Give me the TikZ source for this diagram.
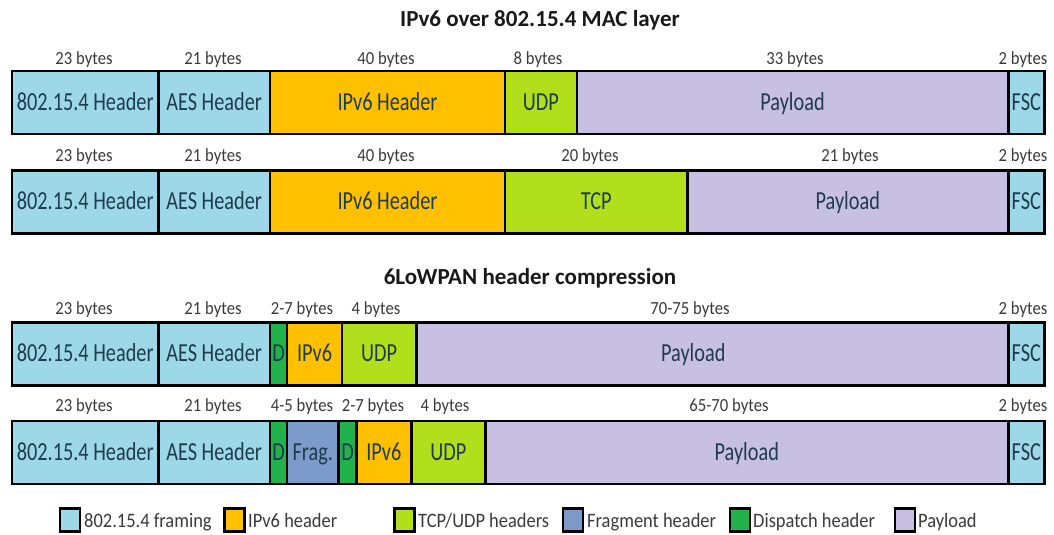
\documentclass[tikz,border=0pt]{standalone}
\usepackage{fontspec}
\setmainfont{Carlito}
\newfontfamily\segfont[FakeStretch=0.78]{Carlito}
\newfontfamily\lblfont[FakeStretch=0.9]{Carlito}
\definecolor{blueC}{HTML}{9DD8E8}
\definecolor{orangeC}{HTML}{FFC000}
\definecolor{limeC}{HTML}{B2DF1C}
\definecolor{purpleC}{HTML}{C8C0E2}
\definecolor{dgreenC}{HTML}{22B24C}
\definecolor{fragC}{HTML}{7C9BCB}
\definecolor{segtext}{HTML}{1F3B4D}
\definecolor{lbltext}{HTML}{3A3A3A}
\newcommand\seg[6]{\node[segbox, fill=#2, minimum width={(#4-#3)*1pt}] (#1) at (#3,#5) {#6};}
\begin{document}
\begin{tikzpicture}[x=1pt,y=-1pt,
  segbox/.style={draw=black, line width=2.6pt, inner sep=0pt, anchor=west,
    text=segtext, font=\segfont\fontsize{26}{26}\selectfont,
    minimum height=63pt, text height=15pt, text depth=0pt},
  lbl/.style={font=\lblfont\fontsize{18.5}{18.5}\selectfont, text=lbltext, inner sep=0pt, anchor=base},
  ttl/.style={font=\bfseries\fontsize{23}{23}\selectfont, text=black!90, inner sep=0pt, anchor=base},
  legbox/.style={draw=black, line width=2.4pt, minimum width=20pt, minimum height=23pt, inner sep=0pt},
  legtxt/.style={font=\lblfont\fontsize{20.5}{20.5}\selectfont, text=lbltext, inner sep=0pt, anchor=base west}]
\useasboundingbox (0,0) rectangle (1054,535);

% titles
\node[ttl] (t1) at (540,26.5) {IPv6 over 802.15.4 MAC layer};
\node[ttl] (t2) at (530,284) {6LoWPAN header compression};

% row 1
\seg{r1a}{blueC}{10.8}{157}{102.5}{802.15.4 Header}
\seg{r1b}{blueC}{157}{268.8}{102.5}{AES Header}
\seg{r1c}{orangeC}{268.8}{503.7}{102.5}{IPv6 Header}
\seg{r1d}{limeC}{503.7}{575.5}{102.5}{UDP}
\seg{r1e}{purpleC}{575.5}{1007}{102.5}{Payload}
\seg{r1f}{blueC}{1007}{1043}{102.5}{FSC}
\node[lbl] (l1a) at (84,64.5) {23 bytes};
\node[lbl] (l1b) at (213,64.5) {21 bytes};
\node[lbl] (l1c) at (386,64.5) {40 bytes};
\node[lbl] (l1d) at (538,64.5) {8 bytes};
\node[lbl] (l1e) at (795,64.5) {33 bytes};
\node[lbl] (l1f) at (1023,64.5) {2 bytes};

% row 2
\seg{r2a}{blueC}{10.8}{157}{202}{802.15.4 Header}
\seg{r2b}{blueC}{157}{268.8}{202}{AES Header}
\seg{r2c}{orangeC}{268.8}{503.7}{202}{IPv6 Header}
\seg{r2d}{limeC}{503.7}{686}{202}{TCP}
\seg{r2e}{purpleC}{686}{1007}{202}{Payload}
\seg{r2f}{blueC}{1007}{1043}{202}{FSC}
\node[lbl] (l2a) at (84,161.5) {23 bytes};
\node[lbl] (l2b) at (213,161.5) {21 bytes};
\node[lbl] (l2c) at (386,161.5) {40 bytes};
\node[lbl] (l2d) at (590,161.5) {20 bytes};
\node[lbl] (l2e) at (850,161.5) {21 bytes};
\node[lbl] (l2f) at (1023,161.5) {2 bytes};

% row 3
\seg{r3a}{blueC}{10.8}{157}{354}{802.15.4 Header}
\seg{r3b}{blueC}{157}{268.8}{354}{AES Header}
\seg{r3c}{dgreenC}{268.8}{285.7}{354}{D}
\seg{r3d}{orangeC}{285.7}{340.8}{354}{IPv6}
\seg{r3e}{limeC}{340.8}{415}{354}{UDP}
\seg{r3f}{purpleC}{415}{1007}{354}{\hspace*{-38pt}Payload}
\seg{r3g}{blueC}{1007}{1043}{354}{FSC}
\node[lbl] (l3a) at (84,314.5) {23 bytes};
\node[lbl] (l3b) at (213,314.5) {21 bytes};
\node[lbl] (l3c) at (302,314.5) {2-7 bytes};
\node[lbl] (l3d) at (376,314.5) {4 bytes};
\node[lbl] (l3e) at (690,314.5) {70-75 bytes};
\node[lbl] (l3f) at (1023,314.5) {2 bytes};

% row 4
\seg{r4a}{blueC}{10.8}{157}{452.5}{802.15.4 Header}
\seg{r4b}{blueC}{157}{268.8}{452.5}{AES Header}
\seg{r4c}{dgreenC}{268.8}{285.7}{452.5}{D}
\seg{r4d}{fragC}{285.7}{337.4}{452.5}{Frag.}
\seg{r4e}{dgreenC}{337.4}{355}{452.5}{D}
\seg{r4f}{orangeC}{355}{410}{452.5}{IPv6}
\seg{r4g}{limeC}{410}{484}{452.5}{UDP}
\seg{r4h}{purpleC}{484}{1007}{452.5}{Payload}
\seg{r4i}{blueC}{1007}{1043}{452.5}{FSC}
\node[lbl] (l4a) at (84,411.5) {23 bytes};
\node[lbl] (l4b) at (213,411.5) {21 bytes};
\node[lbl] (l4c) at (302,411.5) {4-5 bytes};
\node[lbl] (l4d) at (373,411.5) {2-7 bytes};
\node[lbl] (l4e) at (445,411.5) {4 bytes};
\node[lbl] (l4f) at (729,411.5) {65-70 bytes};
\node[lbl] (l4g) at (1023,411.5) {2 bytes};

% legend
\node[legbox, fill=blueC] (k1) at (70,520) {};
\node[legtxt] (k1t) at (84,527) {802.15.4 framing};
\node[legbox, fill=orangeC] (k2) at (234.5,520) {};
\node[legtxt] (k2t) at (248,527) {IPv6 header};
\node[legbox, fill=limeC] (k3) at (404.5,520) {};
\node[legtxt] (k3t) at (418,527) {TCP/UDP headers};
\node[legbox, fill=fragC] (k4) at (573,520) {};
\node[legtxt] (k4t) at (587,527) {Fragment header};
\node[legbox, fill=dgreenC] (k5) at (740,520) {};
\node[legtxt] (k5t) at (753,527) {Dispatch header};
\node[legbox, fill=purpleC] (k6) at (905,520) {};
\node[legtxt] (k6t) at (918,527) {Payload};
\end{tikzpicture}
\end{document}
